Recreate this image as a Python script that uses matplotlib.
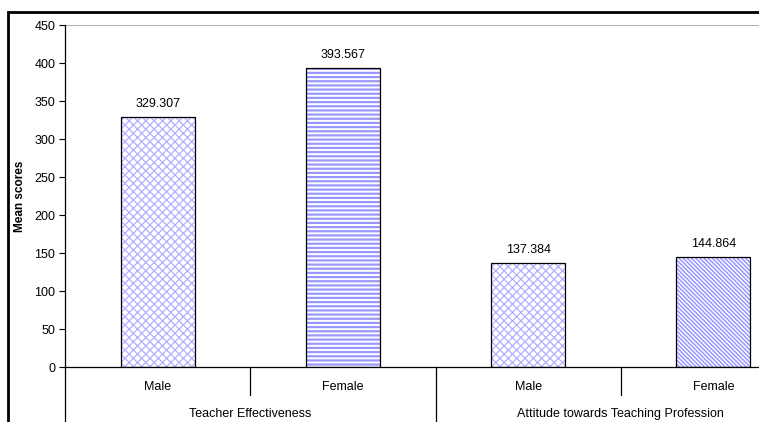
import matplotlib.pyplot as plt
import matplotlib.transforms as mtransforms
from matplotlib.patches import Rectangle

plt.rcParams['font.family'] = ['Liberation Sans', 'DejaVu Sans']

groups = ["Teacher Effectiveness", "Attitude towards Teaching Profession"]
genders = ["Male", "Female", "Male", "Female"]
scores = [329.307, 393.567, 137.384, 144.864]
hatches = ["xxxx", "----", "xxxx", "\\\\\\\\\\\\\\\\"]
hatch_colors = ["#b0b0ff", "#9898ff", "#b0b0ff", "#9898ff"]
hatch_widths = [0.9, 1.6, 0.9, 1.1]

fig = plt.figure(figsize=(7.59, 4.22), dpi=100)
ax = fig.add_axes([65 / 759, 55 / 422, 741 / 759, 342 / 422])

x = list(range(len(scores)))
# hatch layer first, black outline on top
for xi, v, h, hc, hw in zip(x, scores, hatches, hatch_colors, hatch_widths):
    with plt.rc_context({"hatch.linewidth": hw}):
        ax.bar(xi, v, width=0.4, color="white", edgecolor=hc,
               hatch=h, linewidth=0, zorder=2)
ax.bar(x, scores, width=0.4, fill=False, edgecolor="black",
       linewidth=0.9, zorder=3)

for xi, v in zip(x, scores):
    ax.annotate(f"{v:.3f}", (xi, v), xytext=(0, 5), textcoords="offset points",
                ha="center", va="bottom", fontsize=9)

ax.set_xlim(-0.5, len(scores) - 0.5)
ax.set_ylim(0, 450)
ax.set_yticks(range(0, 451, 50))
ax.tick_params(axis="y", direction="out", length=4, width=0.8, labelsize=9, pad=3)
ax.set_xticks([])
ax.axhline(450, color="#b0b0b0", linewidth=1.5, zorder=1)
for s in ["top", "right"]:
    ax.spines[s].set_visible(False)
ax.spines["left"].set_linewidth(0.9)
ax.spines["bottom"].set_linewidth(0.9)
ax.set_ylabel("Mean scores", fontsize=8.5, fontweight="bold", labelpad=6)

# two-level category axis
trans = mtransforms.blended_transform_factory(ax.transData, ax.transAxes)
px = 1 / 342
for xi, g in zip(x, genders):
    ax.text(xi, -20 * px, g, transform=trans, ha="center", va="center", fontsize=9)
for i, g in enumerate(groups):
    ax.text(2 * i + 0.5, -47 * px, g, transform=trans, ha="center", va="center",
            fontsize=9)
for xb in [0.5, 2.5]:
    ax.plot([xb, xb], [0, -28 * px], transform=trans, color="black",
            linewidth=0.9, clip_on=False)
for xb in [-0.5, 1.5]:
    ax.plot([xb, xb], [0, -60 * px], transform=trans, color="black",
            linewidth=0.9, clip_on=False)

# chart frame
fig.patches.append(Rectangle((8 / 759, -0.1), 1.2, (422 - 12) / 422 + 0.1,
                             transform=fig.transFigure, fill=False,
                             edgecolor="black", linewidth=2))

fig.savefig("out.png", dpi=100)
